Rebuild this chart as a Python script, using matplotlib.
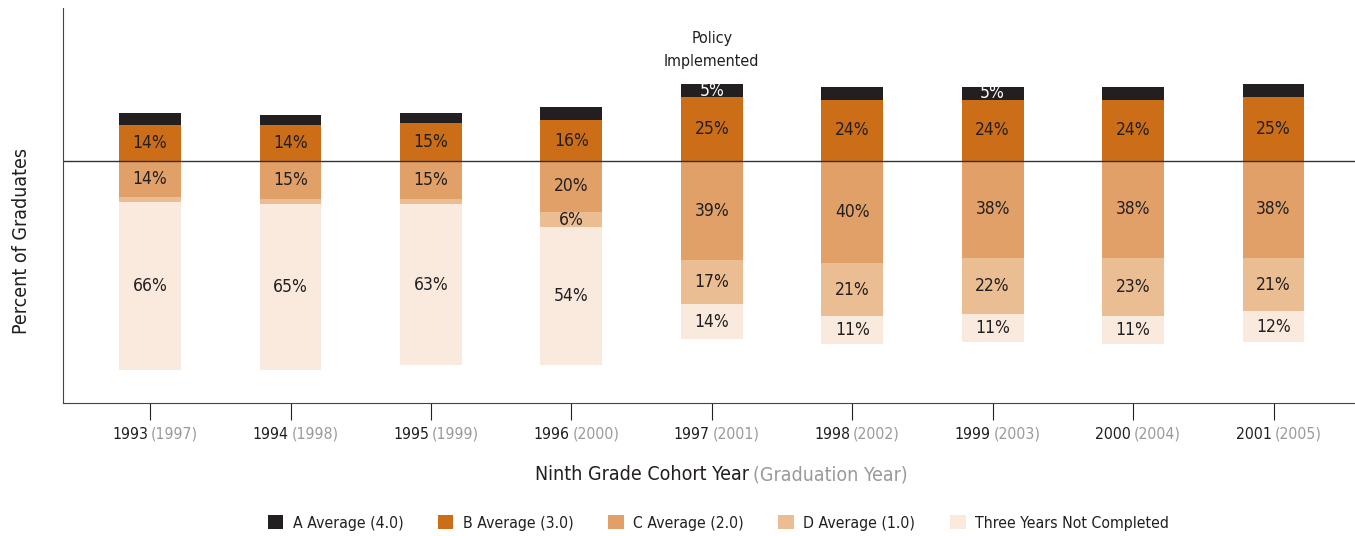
import matplotlib
matplotlib.use('Agg')
import matplotlib.pyplot as plt
import numpy as np

plt.rcParams['font.family'] = ['DejaVu Sans']
plt.rcParams['font.stretch'] = 'condensed'

CohortYears = ['1993', '1994', '1995', '1996', '1997', '1998', '1999', '2000', '2001']
GradYears = ['(1997)', '(1998)', '(1999)', '(2000)', '(2001)', '(2002)', '(2003)', '(2004)', '(2005)']

AAverage = [5, 4, 4, 5, 5, 5, 5, 5, 5]
BAverage = [14, 14, 15, 16, 25, 24, 24, 24, 25]
CAverage = [14, 15, 15, 20, 39, 40, 38, 38, 38]
DAverage = [2, 2, 2, 6, 17, 21, 22, 23, 21]
NotCompleted = [66, 65, 63, 54, 14, 11, 11, 11, 12]
ShowALabel = [False, False, False, False, True, False, True, False, False]

ColA = '#231f20'
ColB = '#cc6d17'
ColC = '#e1a068'
ColD = '#ebbd93'
ColT = '#f9eadd'
Dark = '#231f20'
Gris = '#9a9a9a'

Fig = plt.figure(figsize=(13.55, 5.36), dpi=100)
Ax = Fig.add_axes([0.0465, 0.248, 0.9535, 0.737])

X = np.arange(len(CohortYears))
W = 0.44
A = np.array(AAverage)
B = np.array(BAverage)
C = np.array(CAverage)
D = np.array(DAverage)
T = np.array(NotCompleted)

Ax.bar(X, B, W, bottom=0, color=ColB, label='B Average (3.0)')
Ax.bar(X, A, W, bottom=B, color=ColA, label='A Average (4.0)')
Ax.bar(X, -C, W, bottom=0, color=ColC, label='C Average (2.0)')
Ax.bar(X, -D, W, bottom=-C, color=ColD, label='D Average (1.0)')
Ax.bar(X, -T, W, bottom=-C - D, color=ColT, label='Three Years Not Completed')

FS = 12.5
for i in range(len(X)):
    Ax.text(X[i], B[i] / 2, f'{B[i]}%', ha='center', va='center', fontsize=FS, color=Dark)
    if ShowALabel[i]:
        Ax.text(X[i], B[i] + A[i] / 2, f'{A[i]}%', ha='center', va='center', fontsize=FS, color='white')
    Ax.text(X[i], -C[i] / 2, f'{C[i]}%', ha='center', va='center', fontsize=FS, color=Dark)
    if D[i] >= 5:
        Ax.text(X[i], -C[i] - D[i] / 2, f'{D[i]}%', ha='center', va='center', fontsize=FS, color=Dark)
    Ax.text(X[i], -C[i] - D[i] - T[i] / 2, f'{T[i]}%', ha='center', va='center', fontsize=FS, color=Dark)

Ax.axhline(0, color='#333333', lw=1)
Ax.text(4, 43.5, 'Policy\nImplemented', ha='center', va='center', fontsize=11.5, color=Dark, linespacing=1.6)

Ax.set_xlim(-0.62, 8.58)
Ax.set_ylim(-95, 60)
Ax.set_yticks([])
Ax.set_xticks(X)
Ax.set_xticklabels([])
Ax.tick_params(axis='x', length=12, width=0.8, color=Dark)
Ax.spines['top'].set_visible(False)
Ax.spines['right'].set_visible(False)
Ax.spines['left'].set_color('#444444')
Ax.spines['bottom'].set_color('#444444')

# etiquetas de dos colores
for i in range(len(X)):
    Ax.annotate(CohortYears[i], xy=(X[i], 0), xycoords=('data', 'axes fraction'),
                xytext=(-2, -31), textcoords='offset pixels', ha='right', va='center',
                fontsize=11.3, color=Dark)
    Ax.annotate(GradYears[i], xy=(X[i], 0), xycoords=('data', 'axes fraction'),
                xytext=(1, -31), textcoords='offset pixels', ha='left', va='center',
                fontsize=11.3, color=Gris)

Ax.set_ylabel('Percent of Graduates', fontsize=14, color=Dark)
Ax.yaxis.set_label_coords(-0.025, 0.41)

Fig.text(749 / 1355, 1 - 475 / 536, 'Ninth Grade Cohort Year', ha='right', va='center', fontsize=14, color=Dark)
Fig.text(753 / 1355, 1 - 475 / 536, '(Graduation Year)', ha='left', va='center', fontsize=14, color=Gris)

Handles, Labels = Ax.get_legend_handles_labels()
Orden = [1, 0, 2, 3, 4]
Fig.legend([Handles[k] for k in Orden], [Labels[k] for k in Orden], loc='center',
           bbox_to_anchor=(0.53, 1 - 523 / 536), ncol=5, frameon=False, fontsize=11.3,
           handlelength=1.0, handleheight=1.0, columnspacing=2.2, handletextpad=0.6,
           labelcolor=Dark)

Fig.savefig('out.png', dpi=100)
